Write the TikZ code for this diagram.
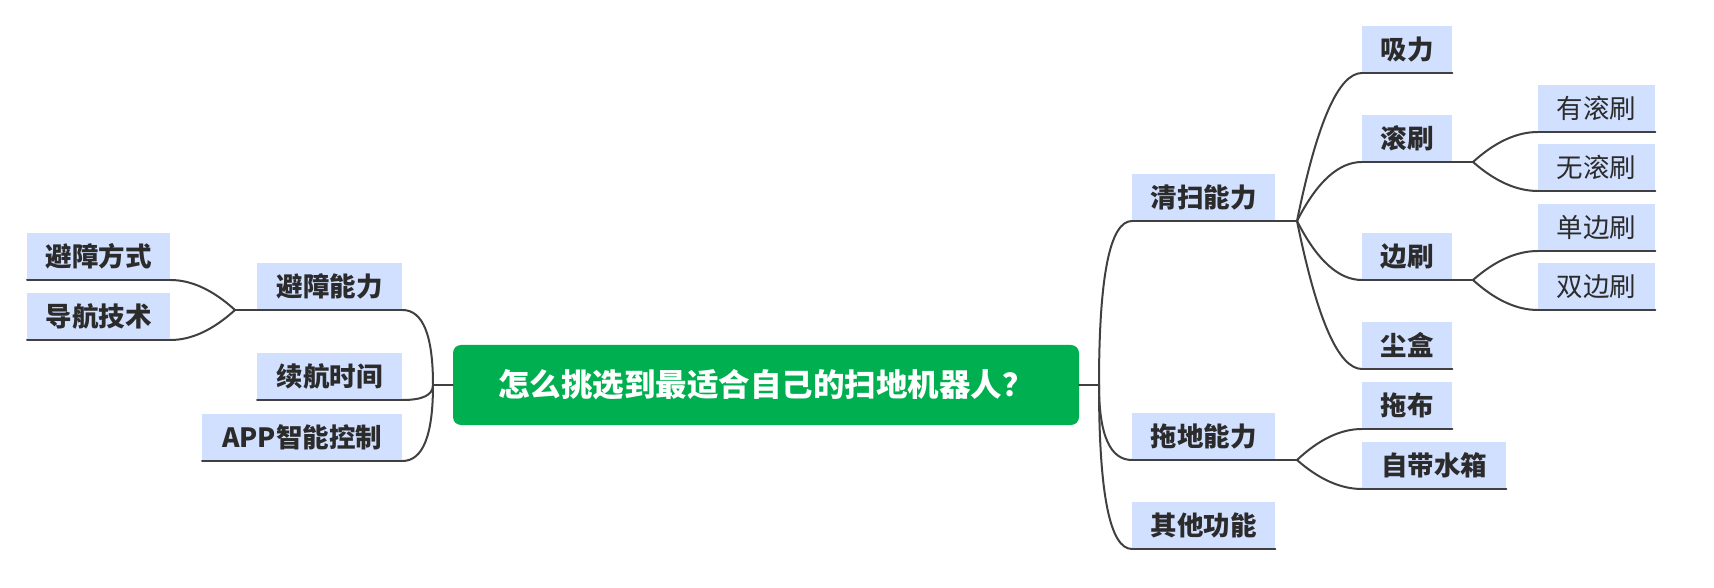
\documentclass[tikz,border=0pt]{standalone}
\usepackage{fontspec}
\setmainfont{Noto Sans CJK SC}
\usetikzlibrary{calc}
\definecolor{topicblue}{HTML}{D2E0FF}
\definecolor{rootgreen}{HTML}{00B050}
\definecolor{linegray}{HTML}{404040}
\definecolor{textgray}{HTML}{2B2B2B}
\tikzset{
  topic/.style={fill=topicblue, text=textgray, font=\fontsize{26.5}{30}\selectfont\bfseries,
    inner sep=0pt, minimum height=47pt, anchor=south west},
  subtopic/.style={topic, font=\fontsize{26.5}{30}\selectfont},
  conn/.style={draw=linegray, line width=2pt, line cap=round},
  branch/.style={to path={let \p1=(\tikztostart), \p2=(\tikztotarget) in
    .. controls ({\x1+2/3*(#1)}, {\y1+2/3*(\y2-\y1)}) and ({\x2+2/3*(\x1+(#1)-\x2)}, \y2) .. (\tikztotarget)}},
  branch/.default=0
}
\begin{document}
\begin{tikzpicture}[x=1pt, y=1pt]
\useasboundingbox (0,0) rectangle (1714,587);
% chủ đề chính
\node[fill=rootgreen, rounded corners=8pt, minimum width=626pt, minimum height=80pt, inner sep=0pt,
  text=white, font=\fontsize{31.5}{36}\selectfont\bfseries] (root) at (766,202) {怎么挑选到最适合自己的扫地机器人？};
% nhánh trái
\coordinate (jl) at (433,202);
\coordinate (jb) at (235,277);
\node[topic, minimum width=145pt] (bz) at (257,277) {避障能力};
\node[topic, minimum width=145pt] (xh) at (257,187) {续航时间};
\node[topic, minimum width=200pt] (app) at (202,126) {APP智能控制};
\node[topic, minimum width=143pt] (fs) at (27,307) {避障方式};
\node[topic, minimum width=143pt] (dh) at (27,247) {导航技术};
% nhánh phải
\coordinate (jr) at (1099,202);
\node[topic, minimum width=143pt] (qs) at (1132,366) {清扫能力};
\node[topic, minimum width=143pt] (td) at (1132,127) {拖地能力};
\node[topic, minimum width=143pt] (qt) at (1132,38) {其他功能};
\coordinate (jq) at (1297,366);
\node[topic, minimum width=90pt] (xl) at (1362,514) {吸力};
\node[topic, minimum width=90pt] (gs) at (1362,425) {滚刷};
\node[topic, minimum width=90pt] (bs) at (1362,307) {边刷};
\node[topic, minimum width=90pt] (ch) at (1362,218) {尘盒};
\coordinate (jg) at (1473,425);
\node[subtopic, minimum width=117pt] (ygs) at (1538,455) {有滚刷};
\node[subtopic, minimum width=117pt] (wgs) at (1538,396) {无滚刷};
\coordinate (je) at (1473,307);
\node[subtopic, minimum width=117pt] (dbs) at (1538,336) {单边刷};
\node[subtopic, minimum width=117pt] (sbs) at (1538,277) {双边刷};
\coordinate (jt) at (1297,127);
\node[topic, minimum width=90pt] (tb) at (1362,158) {拖布};
\node[topic, minimum width=144pt] (sx) at (1362,98) {自带水箱};
% gạch chân
\foreach \k in {bz,xh,app,fs,dh,qs,td,qt,xl,gs,bs,ch,ygs,wgs,dbs,sbs,tb,sx}
  {\draw[conn] (\k.south west) -- (\k.south east);}
% đường nối
\draw[conn] (root.west) -- (jl);
\draw[conn] (root.east) -- (jr);
\foreach \k in {bz,xh,app}{\draw[conn] (jl) to[branch] (\k.south east);}
\draw[conn] (bz.south west) -- (jb);
\foreach \k in {fs,dh}{\draw[conn] (jb) to[branch=-33] (\k.south east);}
\foreach \k in {qs,td,qt}{\draw[conn] (jr) to[branch] (\k.south west);}
\draw[conn] (qs.south east) -- (jq);
\foreach \k in {xl,gs,bs,ch}{\draw[conn] (jq) to[branch=30] (\k.south west);}
\draw[conn] (gs.south east) -- (jg);
\foreach \k in {ygs,wgs}{\draw[conn] (jg) to[branch=33] (\k.south west);}
\draw[conn] (bs.south east) -- (je);
\foreach \k in {dbs,sbs}{\draw[conn] (je) to[branch=33] (\k.south west);}
\draw[conn] (td.south east) -- (jt);
\foreach \k in {tb,sx}{\draw[conn] (jt) to[branch=33] (\k.south west);}
\end{tikzpicture}
\end{document}
